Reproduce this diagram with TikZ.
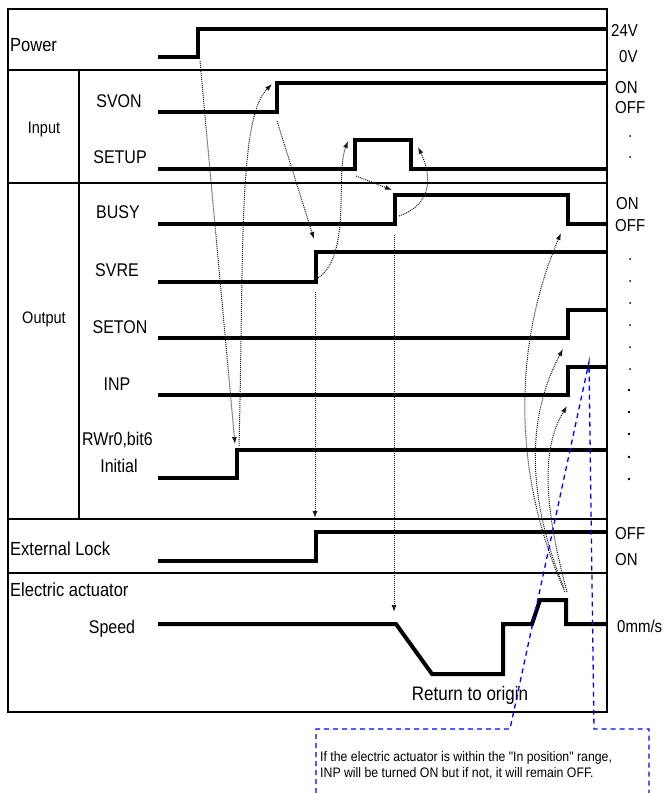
\documentclass[tikz,border=0pt]{standalone}
\usepackage{fontspec}
\setmainfont{Liberation Sans}
\newfontfamily\notefont{Liberation Sans}
\usepackage{graphicx}
\usetikzlibrary{arrows.meta}
\newcommand{\stx}[2][1.15]{\scalebox{1}[#1]{#2}}
\begin{document}
\begin{tikzpicture}[x=1pt,y=-1pt,
  frame/.style={line width=2pt},
  sig/.style={line width=4pt},
  dotarr/.style={line width=1pt, dash pattern=on 1pt off 1pt, color=black!90, -{Latex[length=7pt,width=5pt]}},
  blued/.style={line width=1.3pt, color=blue, dash pattern=on 5pt off 4pt},
  lbl/.style={inner sep=0pt, anchor=base, font=\fontsize{16}{19}\selectfont},
  lblw/.style={inner sep=0pt, anchor=base west, font=\fontsize{16.5}{19}\selectfont},
  sml/.style={inner sep=0pt, anchor=base, font=\fontsize{14.5}{17}\selectfont},
  rl/.style={inner sep=0pt, anchor=base west, font=\fontsize{15}{18}\selectfont},
  note/.style={inner sep=0pt, anchor=base west, font=\notefont\fontsize{12.3}{15}\selectfont},
  dotm/.style={fill=black}
]
\useasboundingbox (0,0) rectangle (666,793);
\fill[white] (0,0) rectangle (666,793);

% frame
\draw[frame] (8,9) rectangle (607,712);
\draw[frame] (8,70) -- (607,70);
\draw[frame] (8,183) -- (607,183);
\draw[frame] (8,519) -- (607,519);
\draw[frame] (8,573) -- (607,573);
\draw[frame] (79,70) -- (79,519);

% signals
\draw[sig] (158,57) -- (198,57) -- (198,29) -- (607,29);
\draw[sig] (158,112) -- (277,112) -- (277,83) -- (607,83);
\draw[sig] (158,169) -- (355,169) -- (355,140) -- (411,140) -- (411,169) -- (607,169);
\draw[sig] (158,224) -- (395,224) -- (395,195) -- (568,195) -- (568,224) -- (607,224);
\draw[sig] (158,282) -- (316,282) -- (316,252) -- (607,252);
\draw[sig] (158,338) -- (568,338) -- (568,310) -- (607,310);
\draw[sig] (158,395) -- (568,395) -- (568,367) -- (607,367);
\draw[sig] (158,478) -- (237,478) -- (237,450) -- (607,450);
\draw[sig] (158,561) -- (316,561) -- (316,532) -- (607,532);
\draw[sig] (158,624) -- (396,624) -- (432,674) -- (503,674) -- (503,624) -- (532,624) -- (540,600) -- (566,600) -- (566,624) -- (607,624);

% labels left
\node[lblw] (tPower) at (10,51) {\stx{Power}};
\node[sml] (tInput) at (44,133) {\stx{Input}};
\node[sml] (tOutput) at (44,323) {\stx{Output}};
\node[lbl] (tSVON) at (119,107) {\stx{SVON}};
\node[lbl] (tSETUP) at (120,163) {\stx{SETUP}};
\node[lbl] (tBUSY) at (118,218) {\stx{BUSY}};
\node[lbl] (tSVRE) at (117,276) {\stx{SVRE}};
\node[lbl] (tSETON) at (120,333) {\stx{SETON}};
\node[lbl] (tINP) at (117,390) {\stx{INP}};
\node[lbl] (tRW) at (117.5,445) {\stx{RWr0,bit6}};
\node[lbl] (tInit) at (119,472) {\stx{Initial}};
\node[lblw] (tExt) at (10,555) {\stx{External Lock}};
\node[lblw] (tElec) at (10,596) {\stx{Electric actuator}};
\node[lbl] (tSpeed) at (112,633) {\stx{Speed}};
\node[inner sep=0pt, anchor=base, font=\fontsize{17}{20}\selectfont] (tRet) at (470,700) {\stx{Return to origin}};

% labels right
\node[rl] (r24) at (611,36) {\stx{24V}};
\node[rl] (r0) at (619,62) {\stx{0V}};
\node[rl] (rOn1) at (615,93) {\stx{ON}};
\node[rl] (rOff1) at (615,113) {\stx{OFF}};
\node[rl] (rOn2) at (616,209) {\stx{ON}};
\node[rl] (rOff2) at (615,231) {\stx{OFF}};
\node[rl] (rOff3) at (615,539) {\stx{OFF}};
\node[rl] (rOn3) at (615,565) {\stx{ON}};
\node[rl] (rmm) at (617,632) {\stx{0mm/s}};

% dots
\foreach \yy in {136,157,259,281,303,325,347,369} \fill[dotm] (630,\yy) circle (1pt);
\foreach \yy in {390,412,434,457,479} \fill[dotm] (629,\yy) circle (1.4pt);

% connector end points
\coordinate (pwA) at (200,61);   \coordinate (iniA) at (235,444);
\coordinate (iniB) at (239,446); \coordinate (svonA) at (272,84);
\coordinate (svonB) at (277,121); \coordinate (svreA) at (314,239);
\coordinate (svreB) at (318,278); \coordinate (setupA) at (348,141);
\coordinate (setupB) at (356,176); \coordinate (busyA) at (392,190);
\coordinate (busyB) at (399,216); \coordinate (setupC) at (418,147);
\coordinate (busyC) at (394,235); \coordinate (spdA) at (394,612);
\coordinate (svreC) at (315,292); \coordinate (extA) at (315,518);
\coordinate (spd1) at (565,592); \coordinate (busyD) at (561,233);
\coordinate (spd2) at (564,588); \coordinate (setonA) at (563,349);
\coordinate (spd3) at (567,592); \coordinate (inpA) at (567,406);

\draw[dotarr] (pwA) -- (iniA);
\draw[dotarr] (iniB) .. controls (244,250) and (238,118) .. (svonA);
\draw[dotarr] (svonB) -- (svreA);
\draw[dotarr] (svreB) .. controls (352,255) and (335,175) .. (setupA);
\draw[dotarr] (setupB) -- (busyA);
\draw[dotarr] (busyB) .. controls (431,205) and (433,178) .. (setupC);
\draw[dotarr] (busyC) -- (spdA);
\draw[dotarr] (svreC) -- (extA);
\draw[dotarr] (spd1) .. controls (510,470) and (515,340) .. (busyD);
\draw[dotarr] (spd2) .. controls (528,500) and (525,420) .. (setonA);
\draw[dotarr] (spd3) .. controls (545,510) and (540,450) .. (inpA);

% callout
\coordinate (inpH) at (589,362);
\coordinate (c1) at (316,793); \coordinate (c2) at (316,729);
\coordinate (c3) at (510,729); \coordinate (c4) at (594,729);
\coordinate (c5) at (649,729); \coordinate (c6) at (649,793);
\draw[blued] (c1) -- (c2) -- (c3) -- (inpH) -- (c4) -- (c5) -- (c6);
\node[note] (n1) at (320,761) {\stx[1.12]{If the electric actuator is within the "In position" range,}};
\node[note] (n2) at (320,777) {\stx[1.12]{INP will be turned ON but if not, it will remain OFF.}};
\end{tikzpicture}
\end{document}
